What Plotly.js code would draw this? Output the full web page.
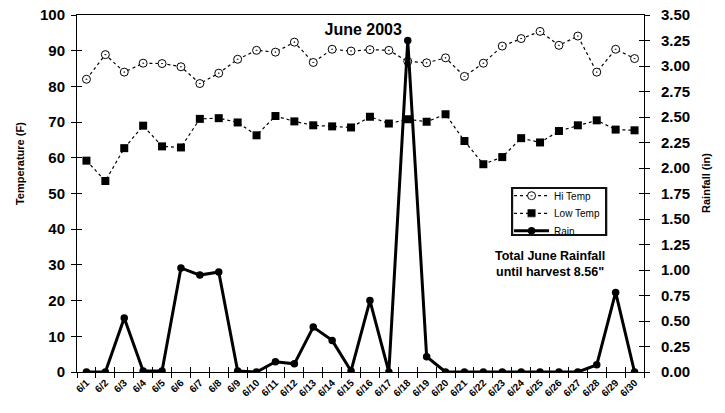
<!DOCTYPE html>
<html>
<head>
<meta charset="utf-8">
<script src="https://cdn.plot.ly/plotly-3.0.1.min.js"></script>
<style>html,body{margin:0;padding:0;background:#fff;}#chart{width:725px;height:413px;}</style>
</head>
<body>
<div id="chart"></div>
<script>
var days = ['6/1','6/2','6/3','6/4','6/5','6/6','6/7','6/8','6/9','6/10','6/11','6/12','6/13','6/14','6/15','6/16','6/17','6/18','6/19','6/20','6/21','6/22','6/23','6/24','6/25','6/26','6/27','6/28','6/29','6/30'];
var hiTemp = [82.0,88.9,84.0,86.5,86.4,85.5,80.8,83.7,87.6,90.1,89.6,92.4,86.7,90.4,89.9,90.3,90.1,87.0,86.6,88.0,82.8,86.5,91.3,93.4,95.4,91.5,94.1,84.0,90.4,87.8];
var lowTemp = [59.2,53.5,62.7,69.0,63.2,62.9,70.9,71.1,69.9,66.3,71.7,70.2,69.1,68.8,68.5,71.5,69.6,70.8,70.1,72.2,64.7,58.2,60.2,65.5,64.3,67.5,69.1,70.5,67.9,67.7];
var rain = [0,0,0.53,0.01,0.01,1.02,0.95,0.98,0.01,0,0.10,0.08,0.44,0.31,0.01,0.70,0,3.25,0.15,0,0,0,0,0,0,0,0,0.07,0.78,0];

var FONT = 'Liberation Sans, Arial, sans-serif';
var boundaries = [];
for (var i = 0; i <= days.length; i++) boundaries.push(i - 0.5);

var traces = [
  {x: days, y: hiTemp, name: 'Hi Temp', type: 'scatter', mode: 'lines+markers', legend: 'legend',
   line: {color: '#000', width: 1.2, dash: 'dot'},
   marker: {symbol: 'circle-dot', size: 8, color: '#fff', line: {color: '#000', width: 1}}},
  {x: days, y: lowTemp, name: 'Low Temp', type: 'scatter', mode: 'lines+markers', legend: 'legend2',
   line: {color: '#000', width: 1.2, dash: 'dot'},
   marker: {symbol: 'square', size: 8, color: '#000'}},
  {x: days, y: rain, name: 'Rain', type: 'scatter', mode: 'lines+markers', yaxis: 'y2', legend: 'legend3',
   line: {color: '#000', width: 3},
   marker: {symbol: 'circle', size: 7.5, color: '#000'}},
  {x: [0], y: [null], xaxis: 'x2', yaxis: 'y3', showlegend: false, hoverinfo: 'skip', type: 'scatter', mode: 'markers'},
  {x: [0], y: [null], xaxis: 'x2', yaxis: 'y4', showlegend: false, hoverinfo: 'skip', type: 'scatter', mode: 'markers'}
];

function legendAt(yc) {
  return {x: 0.762, y: yc, xanchor: 'left', yanchor: 'middle', bgcolor: 'rgba(255,255,255,0.15)',
          borderwidth: 0, itemwidth: 35, font: {family: FONT, size: 10, color: '#000'}};
}

var boldTick = function (size) {
  return {family: FONT, size: size, color: '#000', weight: 'bold'};
};

var layout = {
  width: 725, height: 413,
  margin: {l: 77, r: 81, t: 15, b: 41},
  paper_bgcolor: '#fff', plot_bgcolor: '#fff',
  font: {family: FONT, color: '#000'},
  showlegend: true,
  title: {text: '<b>June 2003</b>', font: {family: FONT, size: 16, color: '#000'},
          x: 0.501, xref: 'container', xanchor: 'center', y: 0.93, yanchor: 'middle'},
  xaxis: {type: 'category', range: [-0.5, days.length - 0.5], tickson: 'boundaries',
          ticks: 'outside', ticklen: 5, tickcolor: '#000', tickangle: -45,
          tickfont: boldTick(10), tickprefix: '<b>', ticksuffix: '</b>',
          showline: true, mirror: true, linecolor: '#000', linewidth: 1,
          showgrid: false, zeroline: false},
  xaxis2: {type: 'linear', overlaying: 'x', anchor: 'y', range: [-0.5, days.length - 0.5],
           tickmode: 'array', tickvals: boundaries, ticks: 'inside', ticklen: 5, tickcolor: '#000',
           showticklabels: false, showline: false, showgrid: false, zeroline: false},
  yaxis: {range: [0, 100], dtick: 10, ticks: 'outside', ticklen: 5, tickcolor: '#000',
          tickfont: boldTick(15), tickprefix: '<b>', ticksuffix: '</b>', ticklabelstandoff: 3,
          showline: true, linecolor: '#000', linewidth: 1, showgrid: false, zeroline: false},
  yaxis3: {overlaying: 'y', anchor: 'x', range: [0, 100], dtick: 10, ticks: 'inside', ticklen: 5,
           tickcolor: '#000', showticklabels: false, showline: false, showgrid: false, zeroline: false},
  yaxis2: {overlaying: 'y', side: 'right', anchor: 'x', range: [0, 3.5], dtick: 0.25, tickformat: '.2f',
           ticks: 'outside', ticklen: 5, tickcolor: '#000', ticklabelstandoff: 8,
           tickfont: boldTick(15), tickprefix: '<b>', ticksuffix: '</b>',
           showline: true, linecolor: '#000', linewidth: 1, showgrid: false, zeroline: false},
  yaxis4: {overlaying: 'y', side: 'right', anchor: 'x', range: [0, 3.5], dtick: 0.25, ticks: 'inside', ticklen: 5,
           tickcolor: '#000', showticklabels: false, showline: false, showgrid: false, zeroline: false},
  legend: legendAt(0.4938),
  legend2: legendAt(0.4445),
  legend3: legendAt(0.3958),
  shapes: [
    {type: 'rect', xref: 'paper', yref: 'paper', x0: 0.7676, x1: 0.9335, y0: 0.3838, y1: 0.5154,
     line: {color: '#111111', width: 2}, layer: 'above'}
  ],
  annotations: [
    {text: '\u00a0', xref: 'paper', yref: 'paper', x: 0.8505, y: 0.4496,
     xanchor: 'center', yanchor: 'middle', width: 92, height: 45, borderpad: 0,
     bordercolor: '#111111', borderwidth: 2, bgcolor: 'rgba(0,0,0,0)', showarrow: false,
     font: {family: FONT, size: 10, color: '#000'}},
    {text: '<b>Temperature (F)</b>', xref: 'paper', yref: 'paper', x: -0.1006, y: 0.585,
     xanchor: 'center', yanchor: 'middle',
     textangle: -90, showarrow: false, font: {family: FONT, size: 11, color: '#000'}},
    {text: '<b>Rainfall (in)</b>', xref: 'paper', yref: 'paper', x: 1.109, y: 0.529,
     xanchor: 'center', yanchor: 'middle',
     textangle: -90, showarrow: false, font: {family: FONT, size: 11, color: '#000'}},
    {text: '<b>Total June Rainfall<br>until harvest 8.56"</b>', xref: 'paper', yref: 'paper',
     x: 0.835, y: 0.3025, xanchor: 'center', yanchor: 'middle',
     showarrow: false, font: {family: FONT, size: 12.5, color: '#000'}}
  ]
};

Plotly.newPlot('chart', traces, layout, {displayModeBar: false, staticPlot: true});
</script>
</body>
</html>
